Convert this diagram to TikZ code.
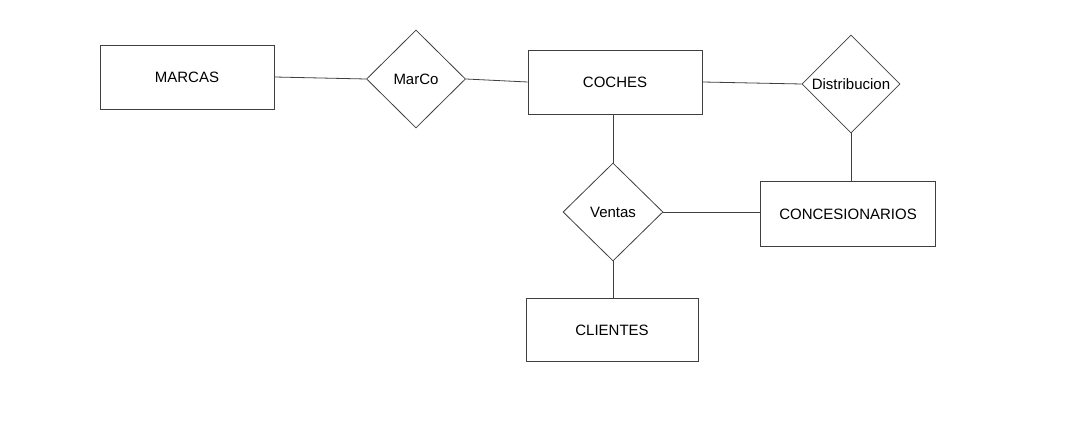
\documentclass[tikz,border=0pt]{standalone}
\usepackage{fontspec}
\setmainfont{Liberation Sans}
\usetikzlibrary{shapes.geometric}
\begin{document}
\begin{tikzpicture}[x=1pt,y=-1pt,
  entity/.style={draw=black!75, line width=0.8pt, rectangle, inner sep=0pt, font=\fontsize{15}{17}\selectfont},
  rel/.style={draw=black!75, line width=0.8pt, diamond, inner sep=0pt, font=\fontsize{15}{17}\selectfont},
  link/.style={draw=black!75, line width=0.8pt}]
\fill[white] (0,0) rectangle (1086,427);
\useasboundingbox (0,0) rectangle (1086,427);
\node[entity, minimum width=174pt, minimum height=64pt] (marcas) at (187,77) {MARCAS};
\node[rel, minimum width=99pt, minimum height=98pt] (marco) at (416,79) {MarCo};
\node[entity, minimum width=174pt, minimum height=64pt] (coches) at (615,82) {COCHES};
\node[rel, minimum width=98pt, minimum height=98pt] (distr) at (851,84) {Distribucion};
\node[entity, minimum width=175pt, minimum height=65pt] (conces) at (848,214) {CONCESIONARIOS};
\node[rel, minimum width=100pt, minimum height=98pt] (ventas) at (613,212) {Ventas};
\node[entity, minimum width=172pt, minimum height=63pt] (clientes) at (612,330) {CLIENTES};
\draw[link] (marcas.east) -- (marco.west);
\draw[link] (marco.east) -- (coches.west);
\draw[link] (coches.east) -- (distr.west);
\draw[link] (distr.south) -- (distr.south |- conces.north);
\draw[link] (coches.south -| ventas.north) -- (ventas.north);
\draw[link] (ventas.east) -- (ventas.east -| conces.west);
\draw[link] (ventas.south) -- (ventas.south |- clientes.north);
\end{tikzpicture}
\end{document}
